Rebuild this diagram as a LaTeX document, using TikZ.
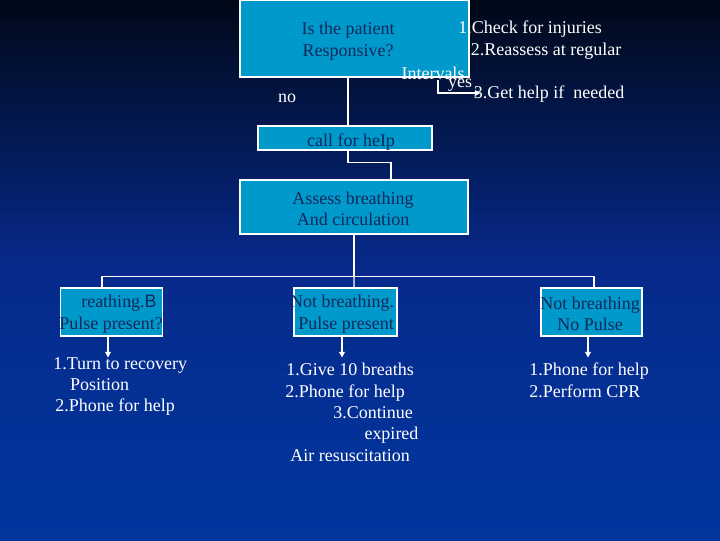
\documentclass[tikz,border=0pt]{standalone}
\usepackage{fontspec}
\setmainfont{Liberation Serif}
\setsansfont{Liberation Sans}
\usetikzlibrary{positioning, arrows.meta, calc}
\definecolor{boxblue}{HTML}{0099CC}
\definecolor{boxtext}{HTML}{14285A}
\definecolor{bgtop}{HTML}{000818}
\definecolor{bgmid}{HTML}{072A8C}
\definecolor{bgbottom}{HTML}{01369E}

\begin{document}
\begin{tikzpicture}[
        x=0.025cm, y=-0.025cm,
        font=\fontsize{12.8}{15.2}\selectfont,
        % Styles for the flowchart parts
        box/.style={
            rectangle, draw=white, line width=0.8pt, fill=boxblue,
            inner sep=0pt
        },
        boxlabel/.style={text=boxtext, inner sep=0pt, align=center},
        note/.style={text=white, inner sep=0pt, align=left},
        link/.style={draw=white, line width=1pt},
        arrow/.style={link, -{Triangle[width=4pt, length=4pt]}}
    ]

    % 0. BACKGROUND
    \useasboundingbox (0,0) rectangle (720,540);
    \fill[top color=bgtop, bottom color=bgbottom, middle color=bgmid] (0,0) rectangle (720,540);

    % 1. FIRST QUESTION
    \node[box, minimum width=5.725cm, minimum height=1.925cm] (responsive) at (354.5,38.5) {};
    \node[boxlabel] (responsivetext) at (348,41) {Is the patient\\Responsive?};

    % Yes branch notes
    \node[note] (check)     at (530,29) {1.Check for injuries};
    \node[note] (reassess)  at (546,51) {2.Reassess at regular};
    \node[note] (intervals) at (433,73) {Intervals};
    \node[note] (yes)       at (460,85) {yes};
    \node[note] (gethelp)   at (549,94) {3.Get help if\ \ needed};
    \node[note] (no)        at (287,98) {no};

    \coordinate (yesbend) at (438,80);
    \draw[arrow] (yesbend) |- ($(gethelp.west)+(7,-1)$);

    % 2. CALL FOR HELP
    \node[box, minimum width=4.35cm, minimum height=0.6cm] (callhelp) at (345,138) {};
    \node[boxlabel] (callhelptext) at (351,142) {call for heIp};
    \draw[link] ($(responsive.south)+(-6.5,0)$) -- ($(callhelp.north)+(3,0)$);

    % 3. ASSESS
    \node[box, minimum width=5.7cm, minimum height=1.35cm] (assess) at (354,207) {};
    \node[boxlabel] (assesstext) at (353,209) {Assess breathing\\And circulation};
    \draw[link] ($(callhelp.south)+(3,0)$) -- ++(0,12) -| ($(assess.north)+(37,0)$);

    % 4. THREE CASES
    \node[box, minimum width=2.55cm, minimum height=1.2cm]  (pulse)   at (111.5,312) {};
    \node[box, minimum width=2.575cm, minimum height=1.2cm] (breathe) at (345.5,312) {};
    \node[box, minimum width=2.525cm, minimum height=1.2cm] (nopulse) at (591.5,312) {};
    \node[boxlabel] (pulsetext)   at (111,314) {\hspace{0.4cm}reathing.{\sffamily B}\\Pulse present?};
    \node[boxlabel] (breathetext) at (342,314) {Not breathing.\\\hspace{0.2cm}Pulse present};
    \node[boxlabel] (nopulsetext) at (590,314) {Not breathing\\No Pulse};

    % Connect assess to the three cases
    \draw[link] (assess.south) -- ++(0,42) coordinate (bus);
    \draw[link] ($(pulse.north)+(-9.5,0)$) |- (bus) -| ($(nopulse.north)+(2.5,0)$);
    \draw[link] (bus) -- ($(breathe.north)+(8.5,0)$);

    % 5. ACTIONS
    \node[note, anchor=north west] (turn) at (53,357)
        {1.Turn to recovery\\\hspace{0.42cm}Position\\\hspace{0.05cm}2.Phone for help};
    \node[note, anchor=north west] (breaths) at (285,363)
        {\hspace{0.03cm}1.Give 10 breaths\\2.Phone for help\\\hspace{1.2cm}3.Continue\\\hspace{1.98cm}expired\\\hspace{0.13cm}Air resuscitation};
    \node[note, anchor=north west] (cpr) at (529,363)
        {1.Phone for help\\2.Perform CPR};

    \draw[arrow] ($(pulse.south)+(-3.5,0)$)   -- ($(pulse.south)+(-3.5,21)$);
    \draw[arrow] ($(breathe.south)+(-3.5,0)$) -- ($(breathe.south)+(-3.5,21)$);
    \draw[arrow] ($(nopulse.south)+(-3.5,0)$) -- ($(nopulse.south)+(-3.5,21)$);

\end{tikzpicture}
\end{document}
